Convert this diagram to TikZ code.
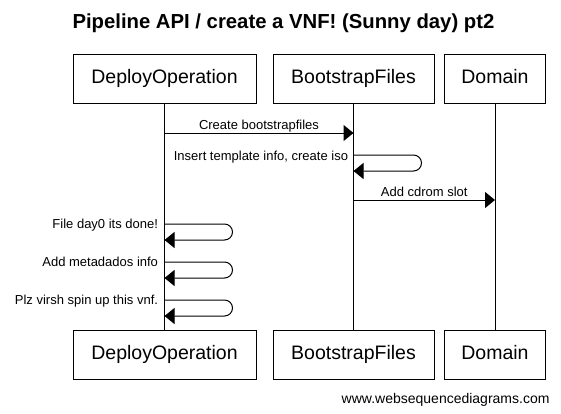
\documentclass[tikz,border=0pt]{standalone}
\usepackage{fontspec}
\setmainfont{Liberation Sans}
\usetikzlibrary{arrows.meta}

\begin{document}
\begin{tikzpicture}[x=1pt, y=-1pt, line width=1pt,
    actor/.style={draw, minimum height=49pt, inner sep=0pt, text height=14pt, text depth=4pt, font=\fontsize{19.5}{22}\selectfont},
    msg/.style={-{Triangle[length=10pt,width=16pt]}},
    lbl/.style={inner sep=0pt, font=\fontsize{13}{15}\selectfont},
    self/.style={msg, rounded corners=8pt}]
  \useasboundingbox (0,0) rectangle (561,413);
  \node[anchor=base west, inner sep=0pt, font=\bfseries\fontsize{20.3}{24}\selectfont] (title) at (72,28) {Pipeline API / create a VNF! (Sunny day) pt2};
  % participants, top and bottom
  \node[actor, minimum width=183pt] (dtop) at (164.5,78.5) {DeployOperation};
  \node[actor, minimum width=161pt] (btop) at (353.5,78.5) {BootstrapFiles};
  \node[actor, minimum width=101pt] (mtop) at (495,78.5) {Domain};
  \node[actor, minimum width=183pt] (dbot) at (164.5,354.5) {DeployOperation};
  \node[actor, minimum width=161pt] (bbot) at (353.5,354.5) {BootstrapFiles};
  \node[actor, minimum width=101pt] (mbot) at (495,354.5) {Domain};
  \draw (dtop) -- (dbot);
  \draw (btop) -- (bbot);
  \draw (mtop) -- (mbot);
  % points on the lifelines
  \coordinate (d1) at (164.5,133);
  \coordinate (b1) at (353.5,133);
  \coordinate (b2) at (353.5,155);
  \coordinate (b2r) at (353.5,171);
  \coordinate (b3) at (353.5,200);
  \coordinate (m3) at (495,200);
  \coordinate (d4) at (164.5,224);
  \coordinate (d4r) at (164.5,240);
  \coordinate (d5) at (164.5,262);
  \coordinate (d5r) at (164.5,278);
  \coordinate (d6) at (164.5,300);
  \coordinate (d6r) at (164.5,316);
  % messages
  \draw[msg] (d1) -- node[lbl, above, text depth=3pt] (l1) {Create bootstrapfiles} (b1);
  \draw[self] (b2) -- ++(68,0) -- ++(0,16) -- (b2r);
  \node[lbl, anchor=base east] (l2) at ([xshift=-5pt,yshift=-5pt]b2) {Insert template info, create iso};
  \draw[msg] (b3) -- node[lbl, above, text depth=3pt] (l3) {Add cdrom slot} (m3);
  \draw[self] (d4) -- ++(68,0) -- ++(0,16) -- (d4r);
  \node[lbl, anchor=base east] (l4) at ([xshift=-6pt,yshift=-4pt]d4) {File day0 its done!};
  \draw[self] (d5) -- ++(68,0) -- ++(0,16) -- (d5r);
  \node[lbl, anchor=base east] (l5) at ([xshift=-6pt,yshift=-4pt]d5) {Add metadados info};
  \draw[self] (d6) -- ++(68,0) -- ++(0,16) -- (d6r);
  \node[lbl, anchor=base east] (l6) at ([xshift=-6pt,yshift=-4pt]d6) {Plz virsh spin up this vnf.};
  \node[anchor=base east, inner sep=0pt, font=\fontsize{14}{16}\selectfont] (foot) at (550,403) {www.websequencediagrams.com};
\end{tikzpicture}
\end{document}
